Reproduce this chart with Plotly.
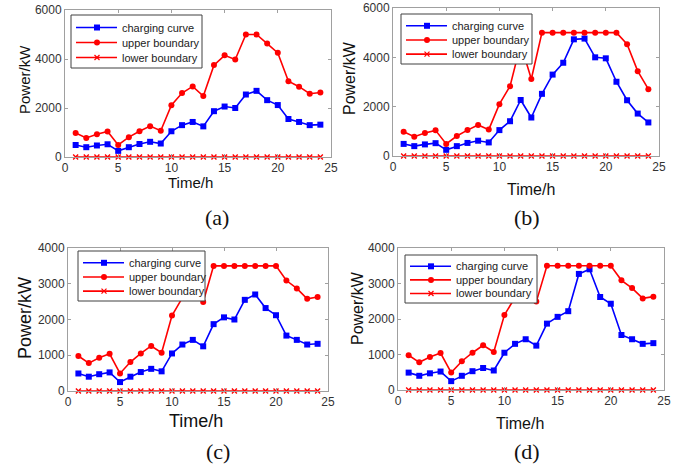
import plotly.graph_objects as go

W, H = 689, 468

hours = list(range(1, 25))

charging_a = [490, 400, 470, 520, 250, 400, 530, 620, 550, 1050, 1300, 1430,
              1250, 1870, 2060, 2000, 2550, 2700, 2320, 2120, 1550, 1430, 1300, 1320]
upper_a = [980, 780, 930, 1040, 490, 810, 1050, 1260, 1070, 2110, 2610, 2880,
           2490, 3750, 4150, 3980, 5000, 5000, 4630, 4250, 3090, 2870, 2580, 2630]

charging_b = [490, 400, 470, 520, 250, 400, 530, 620, 550, 1050, 1410, 2270,
              1560, 2520, 3300, 3780, 4730, 4760, 4000, 3960, 3010, 2260, 1720, 1360]
upper_b = [980, 780, 930, 1040, 490, 810, 1050, 1260, 1070, 2100, 2830, 4540,
           3120, 5000, 5000, 5000, 5000, 5000, 5000, 5000, 5000, 4530, 3440, 2710]

charging_c = [490, 400, 470, 520, 250, 400, 530, 620, 550, 1050, 1300, 1430,
              1250, 1870, 2060, 2000, 2550, 2700, 2320, 2120, 1550, 1430, 1300, 1320]
upper_c = [980, 780, 930, 1040, 490, 810, 1050, 1260, 1070, 2110, 2610, 2880,
           2490, 3500, 3500, 3500, 3500, 3500, 3500, 3500, 3090, 2870, 2580, 2630]

charging_d = [490, 400, 470, 520, 250, 400, 530, 620, 550, 1050, 1300, 1430,
              1250, 1870, 2060, 2220, 3270, 3400, 2620, 2430, 1550, 1430, 1300, 1320]
upper_d = [980, 780, 930, 1040, 490, 810, 1050, 1260, 1070, 2110, 2610, 2880,
           2490, 3500, 3500, 3500, 3500, 3500, 3500, 3500, 3090, 2870, 2580, 2630]

lower = [0] * 24

y_max = [6000, 6000, 4000, 4000]
y_ticks = [[0, 2000, 4000, 6000], [0, 2000, 4000, 6000],
           [0, 1000, 2000, 3000, 4000], [0, 1000, 2000, 3000, 4000]]
x_ticks = [0, 5, 10, 15, 20, 25]
captions = ["(a)", "(b)", "(c)", "(d)"]
series_names = ["charging curve", "upper boundary", "lower boundary"]

# layout (pixels): panel boxes left, right, top, bottom
boxes = [(65, 331, 10, 157), (393, 659, 8, 156), (68, 328, 248, 391), (398, 664, 248, 390)]
# legend boxes: left, top, width, height
legend_boxes = [(71, 15, 131, 53), (401, 14, 131, 50), (78, 251, 127, 50), (405, 255, 132, 48)]
ylabel_pos = [(24, 80, 15), (350, 78, 16), (25, 318, 18), (357, 308, 16)]
xlabel_pos = [(190, 183, 15), (531, 189, 16), (196, 421, 18), (520, 423, 16)]
caption_pos = [(217, 217), (527, 217), (218, 451), (527, 451)]

BLUE = "#0000FF"
RED = "#FF0000"
AX = "#A0A0A0"
TXT = "#333333"

fig = go.Figure()
charging = [charging_a, charging_b, charging_c, charging_d]
upper = [upper_a, upper_b, upper_c, upper_d]

annotations = []
shapes = []


def px_x(v):
    return v / W


def px_y(v):
    return 1 - v / H


def add_legend(lx, ly, w, h):
    shapes.append(dict(type="rect", xref="paper", yref="paper",
                       x0=px_x(lx), x1=px_x(lx + w), y0=px_y(ly + h), y1=px_y(ly),
                       line=dict(color="#404040", width=1), fillcolor="white", layer="above"))
    styles = [("square", BLUE), ("circle", RED), ("x", RED)]
    for k, (sym, col) in enumerate(styles):
        cy = ly + h * (12.5 + 15 * k) / 53
        shapes.append(dict(type="line", xref="paper", yref="paper",
                           x0=px_x(lx + 5), x1=px_x(lx + 46), y0=px_y(cy), y1=px_y(cy),
                           line=dict(color=col, width=1.6), layer="above"))
        mx = lx + 26
        if sym == "square":
            shapes.append(dict(type="rect", xref="paper", yref="paper",
                               x0=px_x(mx - 3), x1=px_x(mx + 3), y0=px_y(cy + 3), y1=px_y(cy - 3),
                               line=dict(color=col, width=0), fillcolor=col, layer="above"))
        elif sym == "circle":
            shapes.append(dict(type="circle", xref="paper", yref="paper",
                               x0=px_x(mx - 3), x1=px_x(mx + 3), y0=px_y(cy + 3), y1=px_y(cy - 3),
                               line=dict(color=col, width=0), fillcolor=col, layer="above"))
        else:
            for s in (1, -1):
                shapes.append(dict(type="line", xref="paper", yref="paper",
                                   x0=px_x(mx - 2.5), x1=px_x(mx + 2.5),
                                   y0=px_y(cy - 2.5 * s), y1=px_y(cy + 2.5 * s),
                                   line=dict(color=col, width=1.3), layer="above"))
        annotations.append(dict(text=series_names[k], x=px_x(lx + 49), y=px_y(cy),
                                xref="paper", yref="paper", xanchor="left", yanchor="middle",
                                showarrow=False,
                                font=dict(family="Liberation Sans", size=11, color="#222222")))


for i in range(4):
    ax = "" if i == 0 else str(i + 1)
    xa, ya = f"x{ax}", f"y{ax}"
    fig.add_trace(go.Scatter(x=hours, y=charging[i], name=series_names[0], mode="lines+markers",
                             line=dict(color=BLUE, width=1.6),
                             marker=dict(symbol="square", size=6, color=BLUE),
                             xaxis=xa, yaxis=ya, cliponaxis=False, showlegend=False))
    fig.add_trace(go.Scatter(x=hours, y=upper[i], name=series_names[1], mode="lines+markers",
                             line=dict(color=RED, width=1.6),
                             marker=dict(symbol="circle", size=6, color=RED),
                             xaxis=xa, yaxis=ya, cliponaxis=False, showlegend=False))
    fig.add_trace(go.Scatter(x=hours, y=lower, name=series_names[2], mode="lines+markers",
                             line=dict(color=RED, width=1.6),
                             marker=dict(symbol="x-thin", size=5, color=RED,
                                         line=dict(color=RED, width=1.4)),
                             xaxis=xa, yaxis=ya, cliponaxis=False, showlegend=False))
    l, r, t, b = boxes[i]
    axis_common = dict(showline=True, linecolor=AX, linewidth=1, mirror="ticks",
                       ticks="inside", ticklen=3, tickcolor=AX, showgrid=False,
                       zeroline=False, automargin=False,
                       tickfont=dict(family="Liberation Sans", size=12, color=TXT))
    fig.update_layout(**{
        f"xaxis{ax}": dict(domain=[px_x(l), px_x(r)], range=[0, 25], tickvals=x_ticks,
                           anchor=ya, **axis_common),
        f"yaxis{ax}": dict(domain=[px_y(b), px_y(t)], range=[0, y_max[i]],
                           tickvals=y_ticks[i], anchor=xa, **axis_common),
    })
    add_legend(*legend_boxes[i])
    px, py, fs = ylabel_pos[i]
    annotations.append(dict(text="Power/kW", x=px_x(px), y=px_y(py), xref="paper", yref="paper",
                            xanchor="center", yanchor="middle", showarrow=False, textangle=-90,
                            font=dict(family="Liberation Sans", size=fs, color="#111111")))
    px, py, fs = xlabel_pos[i]
    annotations.append(dict(text="Time/h", x=px_x(px), y=px_y(py), xref="paper", yref="paper",
                            xanchor="center", yanchor="middle", showarrow=False,
                            font=dict(family="Liberation Sans", size=fs, color="#111111")))
    px, py = caption_pos[i]
    annotations.append(dict(text=captions[i], x=px_x(px), y=px_y(py), xref="paper", yref="paper",
                            xanchor="center", yanchor="middle", showarrow=False,
                            font=dict(family="Liberation Serif", size=22, color="#111111")))

fig.update_layout(width=W, height=H, margin=dict(l=0, r=0, t=0, b=0, autoexpand=False),
                  paper_bgcolor="white", plot_bgcolor="white", annotations=annotations,
                  shapes=shapes, showlegend=False)

fig.write_html("out.html", config={"displayModeBar": False},
               post_script="document.body.style.margin='0px';document.body.style.padding='0px';"
                           "document.documentElement.style.overflow='hidden';")
